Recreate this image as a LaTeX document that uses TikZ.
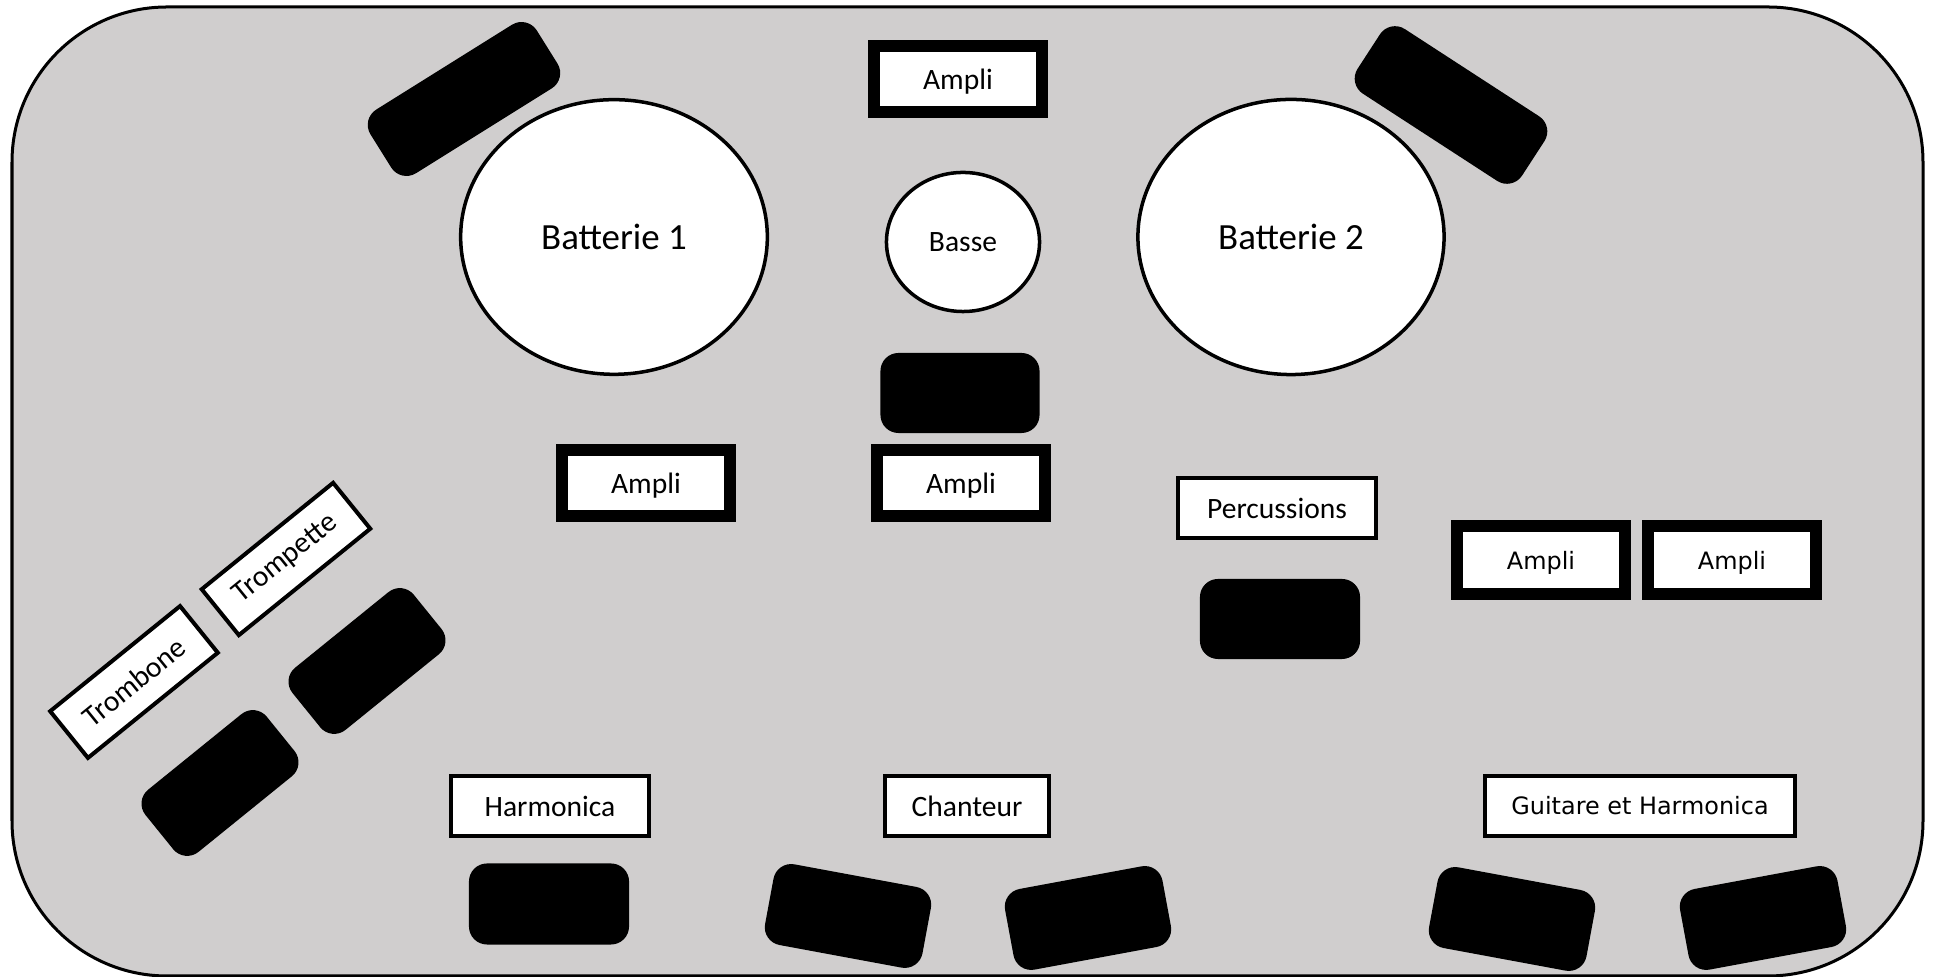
\documentclass[tikz,border=0pt]{standalone}
\usepackage{fontspec}
\setmainfont{Carlito}
\newfontfamily\geofont{DejaVu Sans}
\usetikzlibrary{shapes.geometric}
\definecolor{scene}{HTML}{D0CECE}

\begin{document}
\begin{tikzpicture}[x=0.01cm,y=-0.01cm,
        ampli/.style={draw,line width=0.12cm,fill=white,inner sep=0pt,text depth=0pt,minimum width=1.68cm,minimum height=0.66cm,font=\fontsize{8.4}{10}\selectfont},
        etiquette/.style={draw,line width=0.04cm,fill=white,inner sep=0pt,font=\fontsize{8.4}{10}\selectfont},
        fut/.style={ellipse,draw,line width=0.035cm,fill=white,inner sep=0pt},
        bloc/.style={fill=black,rounded corners=0.18cm,inner sep=0pt,minimum width=1.6cm,minimum height=0.8cm}]
                \useasboundingbox (0,0) rectangle (1935,977);
                \draw[fill=scene,line width=0.03cm,rounded corners=1.55cm] (12,7) rectangle (1923,976);

                \node[bloc,rotate=32,minimum width=1.96cm,minimum height=0.75cm] (blocA) at (464,99) {};
                \node[bloc,rotate=-33,minimum width=1.96cm,minimum height=0.77cm] (blocB) at (1451,105) {};

                \node[fut,minimum width=3.065cm,minimum height=2.745cm,font=\fontsize{10.5}{12}\selectfont] (bat1) at (614,237) {Batterie 1};
                \node[fut,minimum width=3.06cm,minimum height=2.75cm,font=\fontsize{10.5}{12}\selectfont] (bat2) at (1291,237) {Batterie 2};
                \node[fut,minimum width=1.53cm,minimum height=1.39cm,font=\fontsize{8.4}{10}\selectfont] (basse) at (963,242) {Basse};

                \node[ampli] (ampA) at (958,79) {Ampli};
                \node[bloc,minimum width=1.59cm] (blocC) at (960,393) {};
                \node[ampli] (ampB) at (646,483) {Ampli};
                \node[ampli] (ampC) at (961,483) {Ampli};

                \node[etiquette,minimum width=1.98cm,minimum height=0.59cm] (perc) at (1277,508) {Percussions};
                \node[bloc] (blocD) at (1280,619) {};
                \node[ampli,font=\geofont\fontsize{6.8}{8}\selectfont,minimum width=1.68cm,minimum height=0.67cm] (ampD) at (1541,560) {Ampli};
                \node[ampli,font=\geofont\fontsize{6.8}{8}\selectfont,minimum width=1.68cm,minimum height=0.67cm] (ampE) at (1732,560) {Ampli};

                \node[etiquette,rotate=39,minimum width=1.69cm,minimum height=0.59cm] (trompette) at (286,559) {Trompette};
                \node[etiquette,rotate=39,minimum width=1.67cm,minimum height=0.60cm] (trombone) at (134,682) {Trombone};
                \node[bloc,rotate=39,minimum width=1.56cm] (blocE) at (367,661) {};
                \node[bloc,rotate=39,minimum width=1.56cm] (blocF) at (220,783) {};

                \node[etiquette,minimum width=1.98cm,minimum height=0.60cm] (harmo) at (550,806) {Harmonica};
                \node[bloc,minimum height=0.81cm] (blocG) at (549,904) {};

                \node[etiquette,minimum width=1.64cm,minimum height=0.60cm] (chant) at (967,806) {Chanteur};
                \node[bloc,rotate=-10.5,minimum height=0.82cm] (blocH) at (848,916) {};
                \node[bloc,rotate=10.5,minimum height=0.82cm] (blocI) at (1088,918) {};

                \node[etiquette,font=\geofont\fontsize{6.8}{8}\selectfont,minimum width=3.10cm,minimum height=0.60cm] (guit) at (1640,806) {Guitare et Harmonica};
                \node[bloc,rotate=-10.5,minimum height=0.82cm] (blocJ) at (1512,919) {};
                \node[bloc,rotate=10.5,minimum height=0.82cm] (blocK) at (1763,918) {};
\end{tikzpicture}
\end{document}
